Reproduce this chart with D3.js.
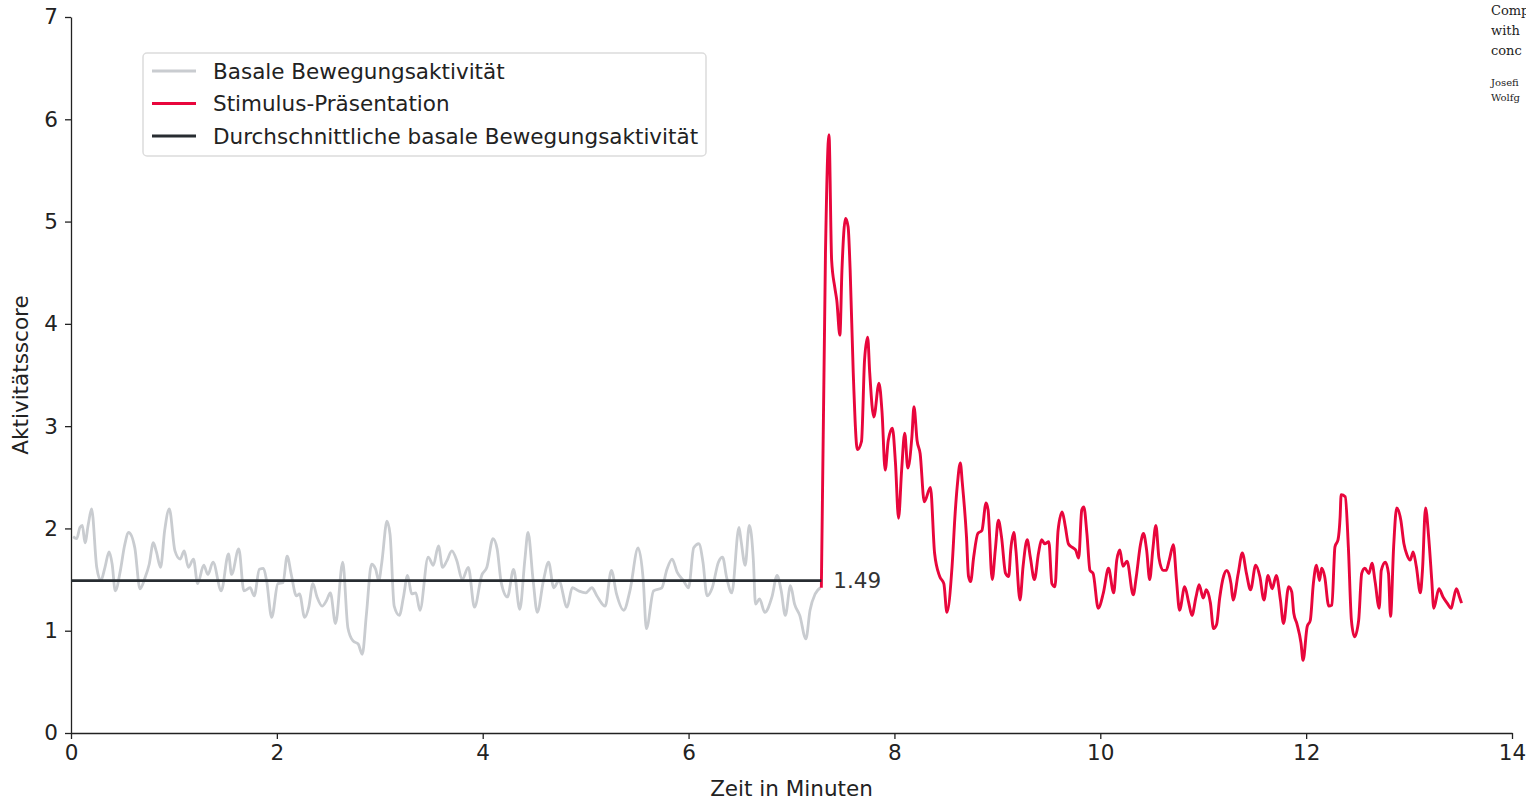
<!DOCTYPE html>
<html>
<head>
<meta charset="utf-8">
<script src="https://cdn.jsdelivr.net/npm/d3@7"></script>
<style>
  body { margin: 0; background: #fff; }
  svg { display: block; font-family: "DejaVu Sans", sans-serif; }
  .axis text { font-size: 21.5px; fill: #222; font-family: "DejaVu Sans", sans-serif; }
  .axis path, .axis line { stroke: #222; stroke-width: 1.3; }
</style>
</head>
<body>
<svg id="chart" width="1526" height="801"></svg>
<script>
// basal activity (minutes, score)
const baseline = [
  [0.02,1.92],[0.055,1.90],[0.087,2.01],[0.11,2.03],[0.136,1.86],[0.168,2.04],[0.20,2.19],[0.25,1.62],[0.29,1.49],[0.33,1.62],
  [0.37,1.77],[0.40,1.65],[0.43,1.39],[0.48,1.59],[0.52,1.83],[0.56,1.96],[0.62,1.81],[0.67,1.41],[0.72,1.52],[0.76,1.65],
  [0.80,1.86],[0.83,1.77],[0.87,1.62],[0.91,1.98],[0.955,2.19],[1.01,1.78],[1.06,1.70],[1.10,1.78],[1.14,1.62],[1.19,1.70],
  [1.23,1.46],[1.29,1.64],[1.33,1.55],[1.38,1.67],[1.46,1.39],[1.53,1.75],[1.56,1.55],[1.63,1.80],[1.68,1.39],[1.74,1.42],
  [1.78,1.34],[1.83,1.60],[1.87,1.61],[1.90,1.49],[1.95,1.13],[2.01,1.46],[2.06,1.47],[2.10,1.73],[2.14,1.55],[2.19,1.34],
  [2.22,1.36],[2.27,1.13],[2.31,1.23],[2.35,1.46],[2.39,1.33],[2.44,1.24],[2.48,1.29],[2.52,1.37],[2.57,1.07],[2.64,1.67],
  [2.69,1.03],[2.74,0.90],[2.79,0.87],[2.83,0.77],[2.87,1.16],[2.92,1.65],[2.96,1.60],[2.99,1.49],[3.02,1.67],[3.07,2.07],
  [3.10,1.94],[3.14,1.24],[3.19,1.15],[3.23,1.33],[3.27,1.54],[3.31,1.36],[3.35,1.37],[3.39,1.20],[3.47,1.72],[3.52,1.64],
  [3.57,1.83],[3.61,1.62],[3.65,1.68],[3.70,1.78],[3.75,1.68],[3.80,1.50],[3.86,1.62],[3.92,1.23],[3.99,1.54],[4.04,1.62],
  [4.10,1.90],[4.14,1.80],[4.18,1.47],[4.24,1.33],[4.30,1.60],[4.36,1.21],[4.41,1.70],[4.44,1.96],[4.49,1.49],[4.53,1.18],
  [4.59,1.49],[4.64,1.67],[4.69,1.42],[4.74,1.49],[4.82,1.23],[4.87,1.42],[4.93,1.39],[5.00,1.37],[5.06,1.42],[5.11,1.34],
  [5.19,1.24],[5.25,1.59],[5.30,1.36],[5.37,1.20],[5.43,1.39],[5.51,1.81],[5.56,1.49],[5.59,1.02],[5.66,1.39],[5.74,1.42],
  [5.79,1.60],[5.84,1.70],[5.89,1.57],[5.95,1.49],[6.00,1.42],[6.05,1.81],[6.10,1.85],[6.14,1.67],[6.18,1.34],[6.23,1.42],
  [6.29,1.67],[6.33,1.72],[6.37,1.52],[6.42,1.37],[6.49,2.01],[6.51,1.88],[6.55,1.64],[6.59,2.03],[6.63,1.68],[6.65,1.26],
  [6.69,1.31],[6.74,1.18],[6.81,1.33],[6.86,1.54],[6.90,1.39],[6.94,1.15],[6.99,1.44],[7.03,1.26],[7.08,1.15],[7.14,0.92],
  [7.18,1.20],[7.23,1.36],[7.28,1.42]
];

// activity after stimulus
const stimulus = [
  [7.29,1.42],[7.33,4.69],[7.364,5.85],[7.39,4.62],[7.42,4.36],[7.44,4.23],[7.47,3.89],[7.49,4.52],[7.525,5.03],[7.55,4.95],
  [7.57,4.52],[7.60,3.52],[7.64,2.77],[7.68,2.85],[7.71,3.65],[7.74,3.87],[7.76,3.52],[7.80,3.09],[7.85,3.42],[7.88,3.13],
  [7.91,2.57],[7.94,2.86],[7.98,2.98],[8.01,2.64],[8.04,2.10],[8.07,2.57],[8.10,2.93],[8.13,2.59],[8.17,2.90],[8.19,3.19],
  [8.22,2.86],[8.25,2.73],[8.29,2.26],[8.35,2.40],[8.39,1.76],[8.44,1.53],[8.48,1.46],[8.51,1.18],[8.56,1.63],[8.59,2.15],
  [8.61,2.41],[8.64,2.64],[8.66,2.44],[8.70,1.92],[8.72,1.53],[8.74,1.48],[8.77,1.72],[8.81,1.95],[8.85,1.98],[8.89,2.25],
  [8.91,2.18],[8.95,1.50],[8.98,1.79],[9.01,2.08],[9.04,1.92],[9.08,1.56],[9.11,1.53],[9.13,1.79],[9.16,1.96],[9.18,1.79],
  [9.22,1.30],[9.25,1.63],[9.29,1.89],[9.32,1.72],[9.36,1.50],[9.40,1.76],[9.43,1.89],[9.46,1.85],[9.50,1.87],[9.53,1.46],
  [9.56,1.43],[9.59,1.98],[9.63,2.16],[9.66,2.02],[9.69,1.85],[9.72,1.82],[9.76,1.79],[9.79,1.71],[9.82,2.18],[9.84,2.21],
  [9.87,1.95],[9.90,1.59],[9.93,1.56],[9.98,1.22],[10.03,1.37],[10.08,1.61],[10.13,1.37],[10.16,1.69],[10.19,1.79],[10.22,1.63],
  [10.26,1.68],[10.32,1.35],[10.35,1.53],[10.39,1.84],[10.42,1.95],[10.45,1.79],[10.48,1.50],[10.51,1.79],[10.54,2.03],[10.57,1.71],
  [10.61,1.59],[10.64,1.59],[10.67,1.69],[10.71,1.84],[10.74,1.50],[10.77,1.20],[10.82,1.43],[10.86,1.27],[10.89,1.15],[10.93,1.33],
  [10.96,1.45],[11.00,1.32],[11.03,1.40],[11.07,1.27],[11.10,1.02],[11.13,1.06],[11.16,1.32],[11.20,1.54],[11.23,1.59],[11.27,1.46],
  [11.29,1.30],[11.34,1.56],[11.38,1.76],[11.42,1.56],[11.46,1.40],[11.51,1.64],[11.55,1.53],[11.59,1.30],[11.63,1.54],[11.67,1.41],
  [11.71,1.54],[11.75,1.30],[11.78,1.07],[11.83,1.43],[11.86,1.38],[11.88,1.17],[11.91,1.07],[11.95,0.88],[11.97,0.71],[12.01,1.04],
  [12.04,1.10],[12.07,1.46],[12.10,1.64],[12.13,1.49],[12.15,1.61],[12.18,1.53],[12.22,1.24],[12.25,1.25],[12.28,1.82],[12.31,1.89],
  [12.33,2.11],[12.34,2.33],[12.38,2.31],[12.41,1.82],[12.44,1.10],[12.47,0.94],[12.51,1.10],[12.54,1.56],[12.57,1.61],[12.61,1.56],
  [12.64,1.66],[12.67,1.48],[12.71,1.22],[12.73,1.59],[12.77,1.67],[12.80,1.56],[12.82,1.14],[12.85,1.82],[12.88,2.20],[12.92,2.08],
  [12.95,1.85],[12.98,1.74],[13.01,1.69],[13.04,1.77],[13.07,1.63],[13.11,1.37],[13.13,1.59],[13.16,2.20],[13.19,1.92],[13.22,1.50],
  [13.24,1.22],[13.29,1.41],[13.33,1.33],[13.37,1.27],[13.41,1.22],[13.43,1.30],[13.46,1.41],[13.49,1.33],[13.51,1.27]
];

const meanValue = 1.49
const meanRange = [0, 7.29]

const xTicks = [0, 2, 4, 6, 8, 10, 12, 14]
const yTicks = [0, 1, 2, 3, 4, 5, 6, 7]

const legendItems = [
  {label: 'Basale Bewegungsaktivität', color: '#c9ccd0'},
  {label: 'Stimulus-Präsentation', color: '#e8063c'},
  {label: 'Durchschnittliche basale Bewegungsaktivität', color: '#272c31'}
]

const sideText = ['Comp', 'with', 'conc']
const sideAuthors = ['Josefi', 'Wolfg']

const fontSize = 21.5

const svg = d3.select('#chart')

const x = d3.scaleLinear([0, 14], [71, 1512])
const y = d3.scaleLinear([0, 7], [733, 17])

const line = d3.line()
  .x(d => x(d[0]))
  .y(d => y(d[1]))
  .curve(d3.curveMonotoneX)

// axes
svg.append('g')
  .attr('class', 'axis')
  .attr('transform', `translate(0, ${y(0)})`)
  .call(d3.axisBottom(x).tickValues(xTicks).tickFormat(d3.format('d')).tickSize(6).tickSizeOuter(0).tickPadding(6))

svg.append('g')
  .attr('class', 'axis')
  .attr('transform', `translate(${x(0)}, 0)`)
  .call(d3.axisLeft(y).tickValues(yTicks).tickFormat(d3.format('d')).tickSize(6).tickSizeOuter(0).tickPadding(7))

svg.append('text')
  .attr('x', (x(0) + x(14)) / 2)
  .attr('y', 796)
  .attr('text-anchor', 'middle')
  .attr('font-size', fontSize)
  .attr('fill', '#222')
  .text('Zeit in Minuten')

svg.append('text')
  .attr('transform', `translate(28, ${y(3.5)}) rotate(-90)`)
  .attr('text-anchor', 'middle')
  .attr('font-size', fontSize)
  .attr('fill', '#222')
  .text('Aktivitätsscore')

// lines
svg.append('path')
  .attr('d', line(baseline))
  .attr('fill', 'none')
  .attr('stroke', legendItems[0].color)
  .attr('stroke-width', 2.8)
  .attr('stroke-linejoin', 'round')

svg.append('path')
  .attr('d', line(stimulus))
  .attr('fill', 'none')
  .attr('stroke', legendItems[1].color)
  .attr('stroke-width', 2.9)
  .attr('stroke-linejoin', 'round')

svg.append('path')
  .attr('d', d3.line().x(d => x(d[0])).y(d => y(d[1]))(meanRange.map(t => [t, meanValue])))
  .attr('fill', 'none')
  .attr('stroke', legendItems[2].color)
  .attr('stroke-width', 2.6)

svg.append('text')
  .attr('x', x(meanRange[1]) + 12)
  .attr('y', y(meanValue))
  .attr('dy', '0.35em')
  .attr('font-size', fontSize)
  .attr('fill', '#333')
  .text(meanValue.toFixed(2))

// legend
const legend = svg.append('g').attr('transform', 'translate(143, 53)')
legend.append('rect')
  .attr('width', 563).attr('height', 103)
  .attr('rx', 4)
  .attr('fill', '#fff')
  .attr('stroke', '#dcdcdc')
  .attr('stroke-width', 1.5)

legendItems.forEach((d, i) => {
  const ly = 18 + i * 32.5
  legend.append('line')
    .attr('x1', 9).attr('x2', 53)
    .attr('y1', ly).attr('y2', ly)
    .attr('stroke', d.color)
    .attr('stroke-width', 2.8)
  legend.append('text')
    .attr('x', 70).attr('y', ly)
    .attr('dy', '0.35em')
    .attr('font-size', fontSize)
    .attr('fill', '#222')
    .text(d.label)
})

// text cut off at the right edge, as in the source image
sideText.forEach((t, i) => {
  svg.append('text')
    .attr('x', 1491).attr('y', 15 + i * 20)
    .attr('font-family', '"DejaVu Serif", serif')
    .attr('font-size', 13)
    .attr('fill', '#222')
    .text(t)
})
sideAuthors.forEach((t, i) => {
  svg.append('text')
    .attr('x', 1491).attr('y', 86 + i * 15)
    .attr('font-family', '"DejaVu Serif", serif')
    .attr('font-size', 10)
    .attr('fill', '#222')
    .text(t)
})
</script>
</body>
</html>
